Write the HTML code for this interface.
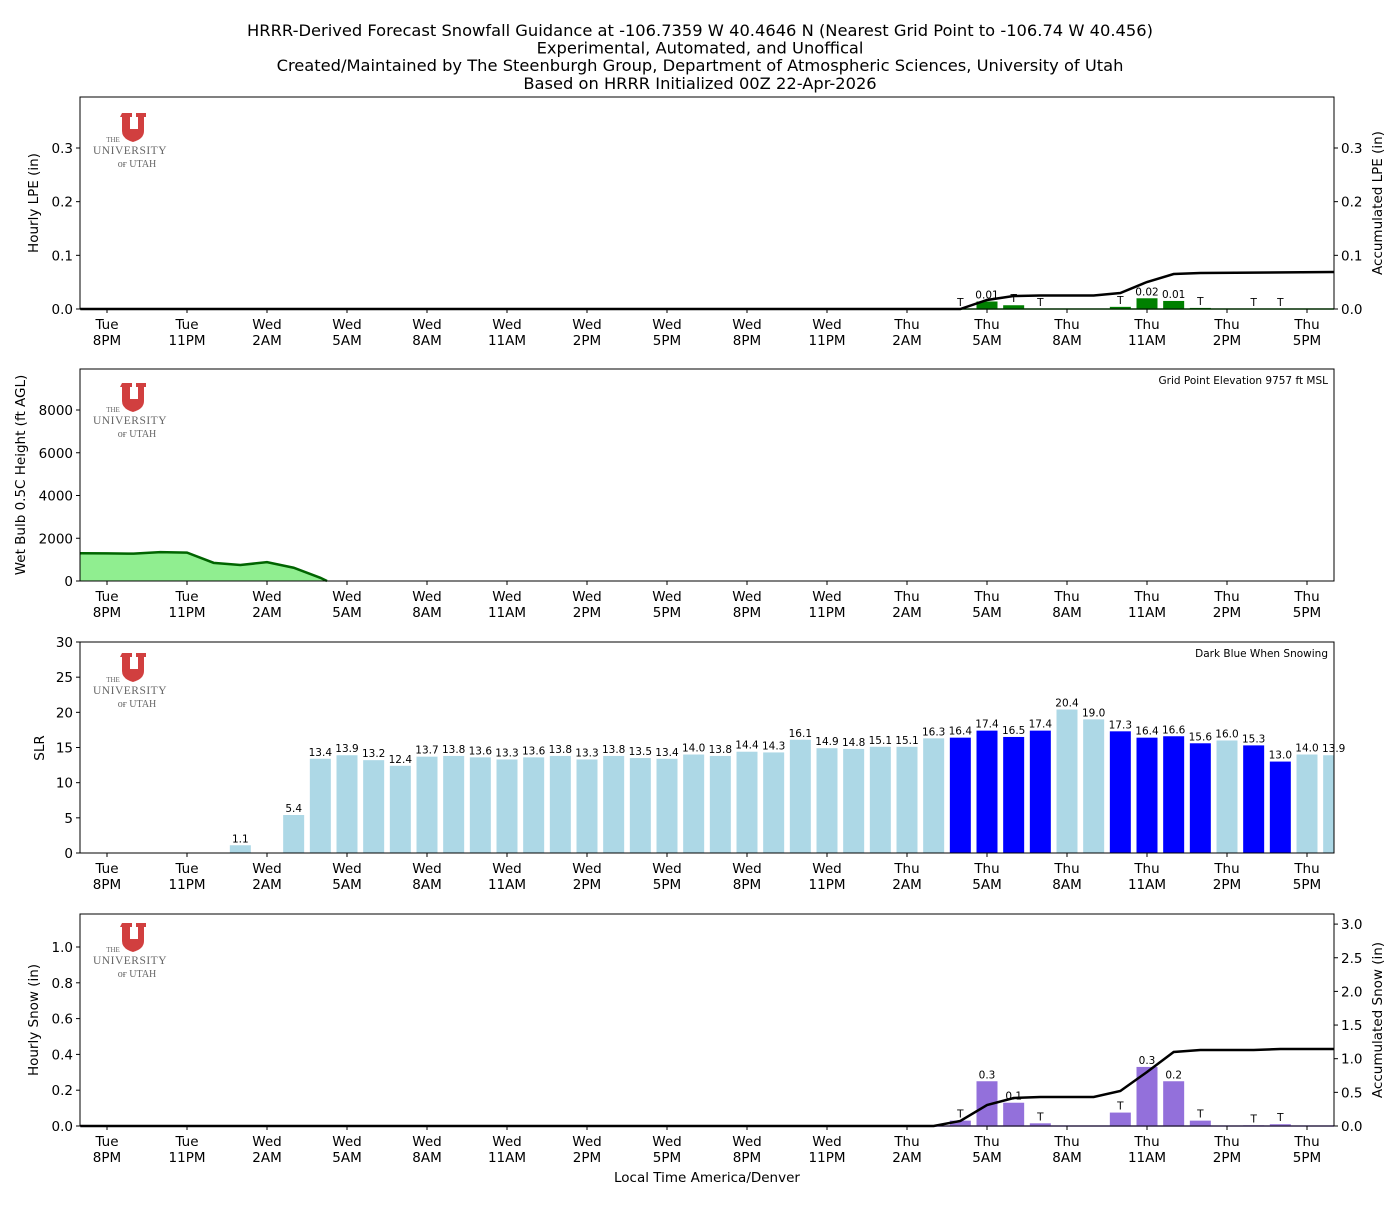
<!DOCTYPE html>
<html><head><meta charset="utf-8">
<style>
html,body{margin:0;padding:0;background:#fff;}
svg text{font-family:"DejaVu Sans","Liberation Sans",sans-serif;}
</style></head>
<body>
<svg id="s" width="1400" height="1200" xmlns="http://www.w3.org/2000/svg"></svg>
<script>
const S=document.getElementById('s');let h='';
const X=t=>107+t*26.6667;
const L=80,R=1334;
const days=['Tue\n8PM','Tue\n11PM','Wed\n2AM','Wed\n5AM','Wed\n8AM','Wed\n11AM','Wed\n2PM','Wed\n5PM','Wed\n8PM','Wed\n11PM','Thu\n2AM','Thu\n5AM','Thu\n8AM','Thu\n11AM','Thu\n2PM','Thu\n5PM'];
function txt(x,y,s,size,anchor,extra){h+=`<text x="${x}" y="${y}" font-size="${size}" text-anchor="${anchor||'middle'}" ${extra||''}>${s}</text>`;}
function xaxis(b){days.forEach((d,i)=>{const x=X(i*3);h+=`<line x1="${x}" y1="${b}" x2="${x}" y2="${b+4}" stroke="#000"/>`;const p=d.split('\n');txt(x,b+20,p[0],13.5);txt(x,b+36,p[1],13.5);});}
function frame(t,b){h+=`<rect x="${L}" y="${t}" width="${R-L}" height="${b-t}" fill="none" stroke="#000" stroke-width="1"/>`;}
function yt(x,y,s,right){if(right){h+=`<line x1="${R}" y1="${y}" x2="${R+4}" y2="${y}" stroke="#000"/>`;txt(R+7,y+5,s,13.5,'start');}else{h+=`<line x1="${L-4}" y1="${y}" x2="${L}" y2="${y}" stroke="#000"/>`;txt(L-7,y+5,s,13.5,'end');}}
function ylab(x,y,s){h+=`<text x="${x}" y="${y}" font-size="13.5" text-anchor="middle" transform="rotate(-90 ${x} ${y})">${s}</text>`;}
function logo(y){h+=`<g transform="translate(0,${y})"><path d="M122 0h10v4h-2v12h8v-12h-2v-4h10v4h-2v14q0 8 -11 11q-11 -3 -11 -11v-14h-2z" fill="#cc2a2a" opacity="0.9"/>
<text x="113" y="29" font-size="7" fill="#666" text-anchor="middle" style="font-family:'Liberation Serif',serif">THE</text>
<text x="130" y="41" font-size="11.5" fill="#666" text-anchor="middle" style="font-family:'Liberation Serif',serif;letter-spacing:0.5px">UNIVERSITY</text>
<text x="137" y="54" font-size="10" fill="#666" text-anchor="middle" style="font-family:'Liberation Serif',serif">ᴏғ UTAH</text></g>`;}
// title
['HRRR-Derived Forecast Snowfall Guidance at -106.7359 W 40.4646 N (Nearest Grid Point to -106.74 W 40.456)','Experimental, Automated, and Unoffical','Created/Maintained by The Steenburgh Group, Department of Atmospheric Sciences, University of Utah','Based on HRRR Initialized 00Z 22-Apr-2026'].forEach((s,i)=>txt(700,36+i*17.6,s,16.3));
const bw=21;
// Panel 1
{const t=97,b=309,k=536.7;
const bars={33:.014,34:.007,38:.004,39:.02,40:.015,41:.002};
for(const i in bars){const v=bars[i];h+=`<rect x="${X(+i)-bw/2}" y="${b-v*k}" width="${bw}" height="${v*k}" fill="#008000"/>`;}
h+=`<line x1="${L}" y1="${b}" x2="${R}" y2="${b}" stroke="#008000" stroke-width="1.5"/>`;
const lab={32:'T',33:'0.01',34:'T',35:'T',38:'T',39:'0.02',40:'0.01',41:'T',43:'T',44:'T'};
for(const i in lab){txt(X(+i),b-(bars[i]||0)*k-3,lab[i],10.5);}
const acc=[[-1,309],[32,309],[33,300],[34,296],[35,295.5],[37,295.5],[38,293],[39,282],[40,274],[41,273],[46,272]];
h+=`<polyline points="${acc.map(p=>X(p[0])+','+p[1]).join(' ')}" fill="none" stroke="#000" stroke-width="2.5"/>`;
frame(t,b);[0,.1,.2,.3].forEach(v=>{yt(0,b-v*k,v.toFixed(1));yt(0,b-v*k,v.toFixed(1),1);});
ylab(38,203,'Hourly LPE (in)');ylab(1382,203,'Accumulated LPE (in)');xaxis(b);logo(113);}
// Panel 2
{const t=369,b=581,k=0.021375;
const pts=[[-1,1300],[0,1290],[1,1280],[2,1350],[3,1330],[4,850],[5,750],[6,880],[7,620],[8,150],[8.25,0]];
h+=`<polygon points="${X(-1)},${b} ${pts.map(p=>X(p[0])+','+(b-p[1]*k)).join(' ')}" fill="#90ee90"/>`;
h+=`<polyline points="${pts.map(p=>X(p[0])+','+(b-p[1]*k)).join(' ')}" fill="none" stroke="#006400" stroke-width="2.5"/>`;
frame(t,b);[0,2000,4000,6000,8000].forEach(v=>yt(0,b-v*k,v));
ylab(25,475,'Wet Bulb 0.5C Height (ft AGL)');txt(1328,384,'Grid Point Elevation 9757 ft MSL',10.5,'end');xaxis(b);logo(383);}
// Panel 3
{const t=642,b=853,k=7.033;
const v={5:1.1,7:5.4,8:13.4,9:13.9,10:13.2,11:12.4,12:13.7,13:13.8,14:13.6,15:13.3,16:13.6,17:13.8,18:13.3,19:13.8,20:13.5,21:13.4,22:14.0,23:13.8,24:14.4,25:14.3,26:16.1,27:14.9,28:14.8,29:15.1,30:15.1,31:16.3,32:16.4,33:17.4,34:16.5,35:17.4,36:20.4,37:19.0,38:17.3,39:16.4,40:16.6,41:15.6,42:16.0,43:15.3,44:13.0,45:14.0,46:13.9};
const dark=[32,33,34,35,38,39,40,41,43,44];
h+=`<svg x="${L}" y="${t}" width="${R-L}" height="${b-t+1}" overflow="hidden"><g transform="translate(${-L},${-t})">`;
for(const i in v){const y=v[i];h+=`<rect x="${X(+i)-bw/2}" y="${b-y*k}" width="${bw}" height="${y*k}" fill="${dark.includes(+i)?'#0000ff':'#add8e6'}"/>`;}
h+=`</g></svg>`;
for(const i in v){const y=v[i];txt(X(+i),b-y*k-3,y.toFixed(1),10.5);}
frame(t,b);[0,5,10,15,20,25,30].forEach(y=>yt(0,b-y*k,y));
ylab(44,748,'SLR');txt(1328,657,'Dark Blue When Snowing',10.5,'end');xaxis(b);logo(653);}
// Panel 4
{const t=914,b=1126,k=179,k2=67.3;
const bars={32:.03,33:.25,34:.13,35:.015,38:.075,39:.33,40:.25,41:.03,43:.004,44:.01};
const lab={32:'T',33:'0.3',34:'0.1',35:'T',38:'T',39:'0.3',40:'0.2',41:'T',43:'T',44:'T'};
for(const i in bars){const y=bars[i];h+=`<rect x="${X(+i)-bw/2}" y="${b-y*k}" width="${bw}" height="${y*k}" fill="#9370db"/>`;txt(X(+i),b-y*k-3,lab[i],10.5);}
h+=`<line x1="${L}" y1="${b}" x2="${R}" y2="${b}" stroke="#9370db" stroke-width="1.5"/>`;
const acc=[[-1,1126],[31,1126],[32,1121],[33,1105],[34,1098],[35,1097],[37,1097],[38,1091],[39,1072],[40,1052],[41,1050],[43,1050],[44,1049],[46,1049]];
h+=`<polyline points="${acc.map(p=>X(p[0])+','+p[1]).join(' ')}" fill="none" stroke="#000" stroke-width="2.5"/>`;
frame(t,b);[0,.2,.4,.6,.8,1.0].forEach(y=>yt(0,b-y*k,y.toFixed(1)));
[0,.5,1,1.5,2,2.5,3].forEach(y=>yt(0,b-y*k2,y.toFixed(1),1));
ylab(38,1020,'Hourly Snow (in)');ylab(1382,1020,'Accumulated Snow (in)');xaxis(b);logo(923);
txt(707,1182,'Local Time America/Denver',13.5);}
S.innerHTML=h;
</script>
</body></html>
